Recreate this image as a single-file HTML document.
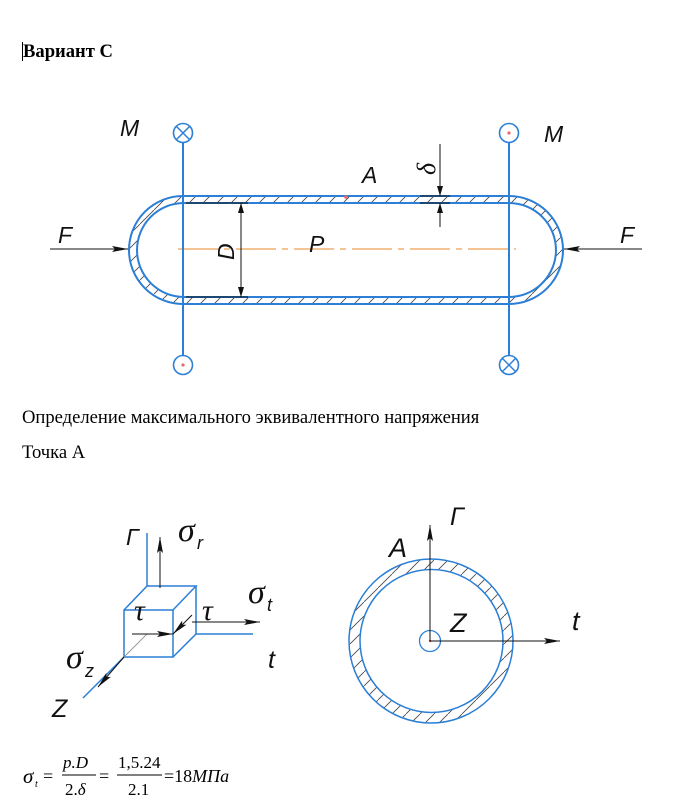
<!DOCTYPE html>
<html><head><meta charset="utf-8"><style>
html,body{margin:0;padding:0;background:#fff;width:676px;height:802px;overflow:hidden}
svg{display:block}
.t{font-family:"Liberation Serif",serif;font-size:18.6px;fill:#000}
.l{font-family:"Liberation Sans",sans-serif;font-style:italic;fill:#111}
.s{font-family:"Liberation Serif",serif;font-style:italic;fill:#111}
</style></head><body>
<svg width="676" height="802" viewBox="0 0 676 802" xmlns="http://www.w3.org/2000/svg">
<defs>
<pattern id="h" patternUnits="userSpaceOnUse" width="14" height="14">
<line x1="0" y1="14" x2="14" y2="0" stroke="#444" stroke-width="0.8"/>
</pattern>
<marker id="a" viewBox="0 0 10 6" refX="10" refY="3" markerWidth="10" markerHeight="6" orient="auto" markerUnits="userSpaceOnUse">
<path d="M0,0 L10,3 L0,6 Z" fill="#111"/></marker>
<marker id="b" viewBox="0 0 16 6" refX="16" refY="3" markerWidth="16" markerHeight="6" orient="auto" markerUnits="userSpaceOnUse">
<path d="M0,0 L16,3 L0,6 L3,3 Z" fill="#111"/></marker>
</defs>
<line x1="22.5" y1="42" x2="22.5" y2="61" stroke="#000" stroke-width="1"/>
<text x="23" y="57" class="t" font-weight="bold" font-size="17.5px">Вариант С</text>
<text x="22" y="423" class="t">Определение максимального эквивалентного напряжения</text>
<text x="22" y="458" class="t">Точка А</text>

<!-- vessel -->
<path fill-rule="evenodd" fill="url(#h)" stroke="#2b7fd6" stroke-width="2" d="M183,196 H509 A54,54 0 0 1 509,304 H183 A54,54 0 0 1 183,196 Z M184,203 H509 A47,47 0 0 1 509,297 H184 A47,47 0 0 1 184,203 Z"/>
<line x1="178" y1="249" x2="516" y2="249" stroke="#f0b070" stroke-width="1.5" stroke-dasharray="40,6,6,6"/>
<line x1="183" y1="142" x2="183" y2="356" stroke="#2b7fd6" stroke-width="2"/>
<line x1="509" y1="142" x2="509" y2="356" stroke="#2b7fd6" stroke-width="2"/>
<g fill="#fff" stroke="#2b7fd6" stroke-width="1.6">
<circle cx="183" cy="133" r="9.5"/><circle cx="183" cy="365" r="9.5"/>
<circle cx="509" cy="133" r="9.5"/><circle cx="509" cy="365" r="9.5"/>
</g>
<g stroke="#2b7fd6" stroke-width="1.5">
<line x1="176.5" y1="126.5" x2="189.5" y2="139.5"/><line x1="189.5" y1="126.5" x2="176.5" y2="139.5"/>
<line x1="502.5" y1="358.5" x2="515.5" y2="371.5"/><line x1="515.5" y1="358.5" x2="502.5" y2="371.5"/>
</g>
<circle cx="183" cy="365" r="1.6" fill="#e66"/><circle cx="509" cy="133" r="1.6" fill="#e66"/>
<circle cx="346" cy="197" r="1.8" fill="#e66"/>
<text x="120" y="136" class="l" font-size="23">M</text>
<text x="544" y="142" class="l" font-size="23">M</text>
<text x="362" y="183" class="l" font-size="23">A</text>
<text x="309" y="252" class="l" font-size="23">P</text>
<text x="58" y="243" class="l" font-size="23">F</text>
<text x="620" y="243" class="l" font-size="23">F</text>
<line x1="50" y1="249" x2="128" y2="249" stroke="#111" stroke-width="1" marker-end="url(#b)"/>
<line x1="642" y1="249" x2="564" y2="249" stroke="#111" stroke-width="1" marker-end="url(#b)"/>
<g stroke="#111" stroke-width="1">
<line x1="186" y1="203" x2="248" y2="203"/><line x1="186" y1="297" x2="248" y2="297"/>
<line x1="241" y1="250" x2="241" y2="203" marker-end="url(#a)"/>
<line x1="241" y1="250" x2="241" y2="297" marker-end="url(#a)"/>
<line x1="420" y1="196" x2="450" y2="196"/><line x1="420" y1="203" x2="450" y2="203"/>
<line x1="440" y1="144" x2="440" y2="196" marker-end="url(#a)"/>
<line x1="440" y1="227" x2="440" y2="203" marker-end="url(#a)"/>
</g>
<text transform="translate(234,260) rotate(-90)" class="l" font-size="23">D</text>
<text transform="translate(435,175) rotate(-90)" class="s" font-size="26">δ</text>

<!-- cube -->
<g stroke="#2b7fd6" stroke-width="1.5" fill="none">
<rect x="124" y="610" width="49" height="47"/>
<polyline points="124,610 147,586 196,586 173,610"/>
<polyline points="196,586 196,634 173,657"/>
<line x1="147" y1="586" x2="147" y2="533"/>
<line x1="196" y1="634" x2="253" y2="634"/>
<line x1="124" y1="657" x2="83" y2="698"/>
</g>
<line x1="147" y1="634" x2="124" y2="657" stroke="#888" stroke-width="0.8"/>
<g stroke="#111" stroke-width="1">
<line x1="160" y1="588" x2="160" y2="537" marker-end="url(#b)"/>
<line x1="192" y1="622" x2="260" y2="622" marker-end="url(#b)"/>
<line x1="132" y1="634" x2="173" y2="634" marker-end="url(#b)"/>
<line x1="192" y1="615" x2="173" y2="634" marker-end="url(#b)"/>
<line x1="124" y1="657" x2="98" y2="687" marker-end="url(#b)"/>
</g>
<text x="126" y="545" class="l" font-size="23">Г</text>
<text x="178" y="541" class="s" font-size="34">σ</text><text x="197" y="549" class="l" font-size="18">r</text>
<text x="248" y="603" class="s" font-size="34">σ</text><text x="267" y="611" class="l" font-size="18">t</text>
<text x="134" y="620" class="s" font-size="30">τ</text>
<text x="202" y="620" class="s" font-size="30">τ</text>
<text x="268" y="668" class="l" font-size="25">t</text>
<text x="66" y="668" class="s" font-size="34">σ</text><text x="85" y="677" class="l" font-size="18">z</text>
<text x="52" y="717" class="l" font-size="25">Z</text>

<!-- ring -->
<path fill-rule="evenodd" fill="url(#h)" stroke="#2b7fd6" stroke-width="1.5" d="M349,641 A82,82 0 1 0 513,641 A82,82 0 1 0 349,641 Z M360,641 A71.5,71.5 0 1 0 503,641 A71.5,71.5 0 1 0 360,641 Z"/>
<circle cx="430" cy="641" r="10.5" fill="#fff" stroke="#2b7fd6" stroke-width="1.3"/>
<circle cx="430" cy="641" r="1.2" fill="#e33"/>
<g stroke="#111" stroke-width="1">
<line x1="430" y1="641" x2="430" y2="525" marker-end="url(#b)"/>
<line x1="430" y1="641" x2="560" y2="641" marker-end="url(#b)"/>
</g>
<text x="450" y="525" class="l" font-size="25">Г</text>
<text x="389" y="557" class="l" font-size="27">A</text>
<text x="450" y="632" class="l" font-size="27">Z</text>
<text x="572" y="630" class="l" font-size="27">t</text>

<!-- formula -->
<g font-family="Liberation Serif,serif" fill="#000">
<text x="23" y="783" font-style="italic" font-size="21">σ</text>
<text x="35" y="787" font-style="italic" font-size="10">t</text>
<text x="43" y="782" font-size="18">=</text>
<text x="63" y="768" font-style="italic" font-size="17">p.D</text>
<line x1="62" y1="775" x2="96" y2="775" stroke="#000" stroke-width="1"/>
<text x="65" y="795" font-size="17">2.<tspan font-style="italic">δ</tspan></text>
<text x="99" y="782" font-size="18">=</text>
<text x="118" y="768" font-size="17">1,5.24</text>
<line x1="117" y1="775" x2="162" y2="775" stroke="#000" stroke-width="1"/>
<text x="128" y="795" font-size="17">2.1</text>
<text x="164" y="782" font-size="18">=18<tspan font-style="italic">МПа</tspan></text>
</g>
</svg>
</body></html>
